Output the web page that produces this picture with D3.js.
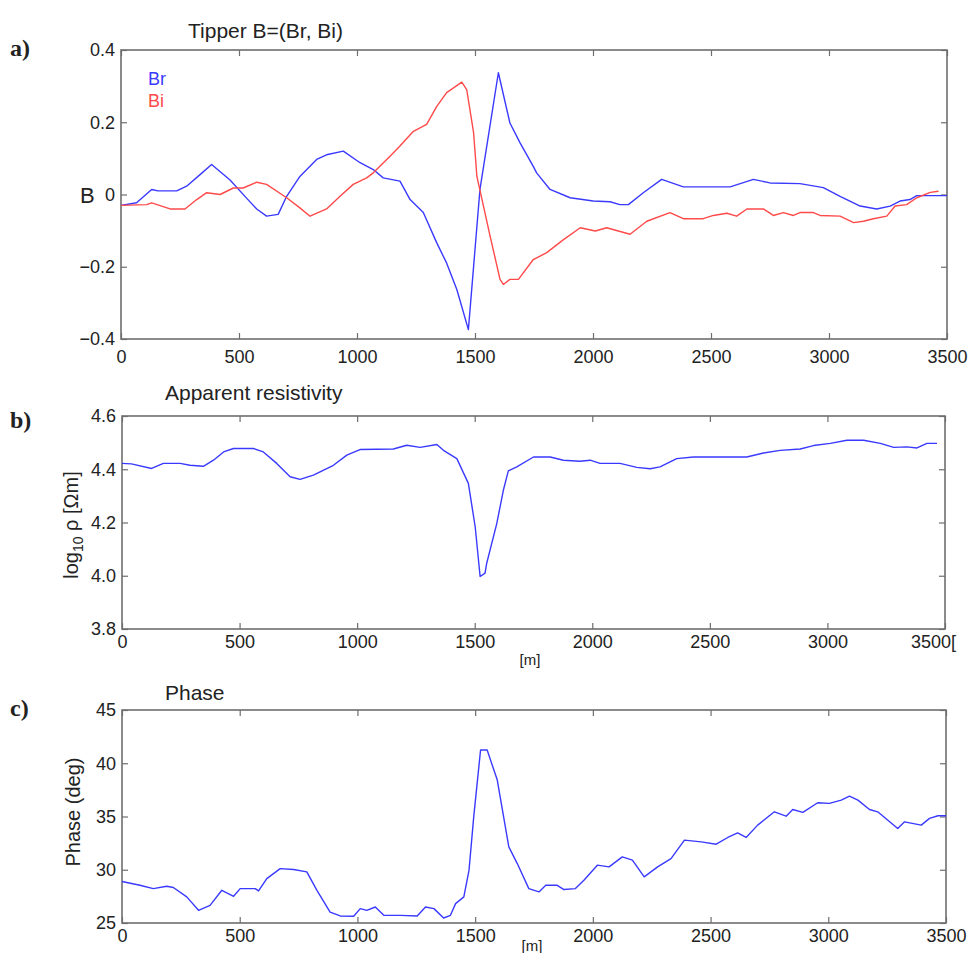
<!DOCTYPE html>
<html>
<head>
<meta charset="utf-8">
<script src="https://cdn.jsdelivr.net/npm/d3@7"></script>
<style>
  body { margin: 0; background: #fff; }
  text { font-family: "Liberation Sans", Arial, sans-serif; fill: #222; }
</style>
</head>
<body>
<script>
// distance along profile [m] and values
let brX = [0, 66, 130, 157, 236, 278, 335, 384, 462, 532, 575, 617, 666, 702, 758, 829, 871, 942, 1013, 1069, 1111, 1182, 1225, 1281, 1338, 1380, 1423, 1472, 1521, 1599, 1648, 1691, 1747, 1761, 1818, 1903, 2001, 2072, 2114, 2150, 2213, 2291, 2383, 2581, 2680, 2750, 2877, 2976, 3047, 3132, 3202, 3259, 3301, 3343, 3372, 3500];
let brY = [-0.03, -0.023, 0.014, 0.01, 0.01, 0.023, 0.055, 0.083, 0.04, -0.01, -0.04, -0.06, -0.055, -0.005, 0.05, 0.097, 0.11, 0.12, 0.088, 0.069, 0.046, 0.037, -0.014, -0.05, -0.134, -0.19, -0.263, -0.374, 0.014, 0.337, 0.198, 0.143, 0.078, 0.06, 0.014, -0.009, -0.018, -0.02, -0.028, -0.028, 0.005, 0.042, 0.021, 0.021, 0.042, 0.032, 0.03, 0.019, -0.005, -0.032, -0.04, -0.032, -0.018, -0.014, -0.003, -0.003];

let biX = [0, 109, 130, 208, 271, 321, 363, 420, 476, 518, 575, 617, 702, 758, 801, 871, 928, 984, 1041, 1069, 1140, 1182, 1239, 1295, 1338, 1380, 1444, 1465, 1494, 1508, 1564, 1606, 1620, 1648, 1684, 1747, 1804, 1875, 1946, 2010, 2058, 2157, 2228, 2326, 2383, 2467, 2510, 2567, 2609, 2652, 2722, 2764, 2807, 2849, 2877, 2934, 2962, 3047, 3104, 3146, 3188, 3245, 3280, 3329, 3372, 3429, 3464];
let biY = [-0.03, -0.028, -0.023, -0.04, -0.04, -0.014, 0.005, 0, 0.018, 0.018, 0.034, 0.028, -0.009, -0.037, -0.06, -0.04, -0.005, 0.028, 0.046, 0.06, 0.106, 0.134, 0.175, 0.194, 0.244, 0.282, 0.311, 0.29, 0.171, 0.05, -0.115, -0.235, -0.249, -0.235, -0.235, -0.18, -0.161, -0.125, -0.092, -0.101, -0.092, -0.11, -0.074, -0.05, -0.067, -0.067, -0.058, -0.052, -0.06, -0.04, -0.04, -0.058, -0.05, -0.058, -0.05, -0.05, -0.058, -0.06, -0.078, -0.074, -0.067, -0.06, -0.032, -0.028, -0.009, 0.006, 0.009];

let rhoX = [0, 40, 126, 176, 247, 289, 346, 389, 432, 474, 559, 601, 658, 715, 757, 814, 899, 956, 1012, 1154, 1211, 1268, 1339, 1367, 1424, 1473, 1502, 1523, 1544, 1551, 1594, 1622, 1643, 1679, 1750, 1821, 1877, 1948, 1991, 2033, 2118, 2189, 2246, 2288, 2359, 2430, 2657, 2728, 2799, 2884, 2941, 3012, 3083, 3154, 3225, 3282, 3338, 3381, 3423, 3466];
let rhoY = [4.422, 4.42, 4.403, 4.422, 4.422, 4.415, 4.411, 4.434, 4.465, 4.478, 4.478, 4.465, 4.422, 4.372, 4.362, 4.378, 4.415, 4.453, 4.474, 4.476, 4.49, 4.482, 4.493, 4.471, 4.44, 4.347, 4.184, 3.997, 4.01, 4.047, 4.197, 4.322, 4.394, 4.409, 4.446, 4.446, 4.434, 4.43, 4.434, 4.422, 4.422, 4.407, 4.402, 4.409, 4.44, 4.446, 4.446, 4.461, 4.471, 4.476, 4.489, 4.497, 4.509, 4.509, 4.497, 4.482, 4.484, 4.48, 4.497, 4.497];

let phX = [0, 76, 133, 190, 218, 275, 325, 374, 424, 474, 502, 566, 580, 615, 672, 729, 785, 828, 884, 927, 984, 1012, 1040, 1076, 1112, 1183, 1254, 1289, 1325, 1366, 1395, 1417, 1452, 1474, 1494, 1523, 1551, 1594, 1643, 1679, 1728, 1771, 1800, 1849, 1877, 1926, 1962, 2019, 2069, 2125, 2168, 2218, 2275, 2332, 2389, 2460, 2524, 2573, 2615, 2651, 2700, 2771, 2821, 2849, 2892, 2955, 3005, 3055, 3090, 3126, 3175, 3210, 3295, 3324, 3395, 3430, 3466, 3500];
let phY = [28.9, 28.54, 28.23, 28.45, 28.33, 27.45, 26.19, 26.66, 28.07, 27.51, 28.23, 28.23, 28.01, 29.17, 30.11, 30.02, 29.8, 28.07, 26.03, 25.66, 25.63, 26.35, 26.19, 26.5, 25.72, 25.72, 25.66, 26.5, 26.35, 25.47, 25.72, 26.82, 27.45, 29.96, 34.97, 41.24, 41.24, 38.42, 32.15, 30.58, 28.23, 27.92, 28.54, 28.54, 28.14, 28.23, 29.01, 30.43, 30.27, 31.21, 30.9, 29.33, 30.27, 31.05, 32.78, 32.62, 32.4, 33.03, 33.46, 33.03, 34.19, 35.44, 35.03, 35.66, 35.38, 36.29, 36.23, 36.54, 36.91, 36.54, 35.66, 35.44, 33.88, 34.5, 34.19, 34.82, 35.07, 35.07];

let xTicks = [0, 500, 1000, 1500, 2000, 2500, 3000, 3500];

const W = 968, H = 953;
const blue = "#3a3aff", red = "#ff4a4a", frameCol = "#6e6e6e";

let svg = d3.select("body").append("svg")
    .attr("width", W)
    .attr("height", H);

function zip(xs, ys) {
    return xs.map((x, i) => ({x: x, y: ys[i]}));
}

function panel(opt) {
    let x = d3.scaleLinear().domain([0, 3500]).range([opt.left, opt.right]);
    let y = d3.scaleLinear().domain(opt.yDomain).range([opt.bottom, opt.top]);
    let g = svg.append("g");

    let fmt = opt.yFormat;

    g.append("g")
        .attr("class", "xaxis")
        .attr("transform", "translate(0," + opt.bottom + ")")
        .call(d3.axisBottom(x).tickValues(xTicks).tickSize(-6).tickPadding(opt.xPad).tickFormat(opt.xFormat || d3.format("d")));
    g.append("g")
        .attr("transform", "translate(0," + opt.top + ")")
        .call(d3.axisTop(x).tickValues(xTicks).tickSize(-6).tickFormat(""));
    g.append("g")
        .attr("transform", "translate(" + opt.left + ",0)")
        .call(d3.axisLeft(y).tickValues(opt.yTicks).tickSize(-6).tickPadding(6).tickFormat(fmt));
    g.append("g")
        .attr("transform", "translate(" + opt.right + ",0)")
        .call(d3.axisRight(y).tickValues(opt.yTicks).tickSize(-6).tickFormat(""));

    g.selectAll(".domain").remove();
    g.selectAll(".tick line").attr("stroke", frameCol).attr("stroke-width", 1.2);
    g.selectAll(".tick text")
        .style("font-size", "18px")
        .style("font-family", "Liberation Sans, Arial, sans-serif")
        .attr("fill", "#222");

    g.append("rect")
        .attr("x", opt.left).attr("y", opt.top)
        .attr("width", opt.right - opt.left).attr("height", opt.bottom - opt.top)
        .attr("fill", "none").attr("stroke", frameCol).attr("stroke-width", 1.6);

    let line = d3.line().x(d => x(d.x)).y(d => y(d.y));
    opt.series.forEach(s => {
        g.append("path")
            .datum(zip(s.xs, s.ys))
            .attr("fill", "none")
            .attr("stroke", s.color)
            .attr("stroke-width", 1.4)
            .attr("stroke-linejoin", "round")
            .attr("d", line);
    });

    // title
    g.append("text")
        .attr("x", opt.titleX).attr("y", opt.titleY)
        .style("font-size", "21px")
        .text(opt.title);

    // panel letter
    g.append("text")
        .attr("x", 10).attr("y", opt.letterY)
        .style("font-family", "Liberation Serif, Times New Roman, serif")
        .style("font-weight", "bold")
        .style("font-size", "24px")
        .attr("fill", "#000")
        .text(opt.letter);

    return {g: g, x: x, y: y};
}

// a) tipper
let pa = panel({
    left: 121, right: 947, top: 50, bottom: 339,
    yDomain: [-0.4, 0.4], yTicks: [-0.4, -0.2, 0, 0.2, 0.4],
    yFormat: d => d === 0 ? "0" : d3.format(".1f")(d),
    xPad: 11,
    series: [{xs: brX, ys: brY, color: blue}, {xs: biX, ys: biY, color: red}],
    title: "Tipper B=(Br, Bi)", titleX: 188, titleY: 38,
    letter: "a)", letterY: 56
});
pa.g.append("text").attr("x", 80).attr("y", 203).style("font-size", "22px").text("B");
pa.g.append("text").attr("x", 148).attr("y", 85).style("font-size", "18px").style("fill", blue).text("Br");
pa.g.append("text").attr("x", 148).attr("y", 107).style("font-size", "18px").style("fill", red).text("Bi");

// b) apparent resistivity
let pb = panel({
    left: 122, right: 945, top: 416, bottom: 629,
    yDomain: [3.8, 4.6], yTicks: [3.8, 4.0, 4.2, 4.4, 4.6],
    yFormat: d3.format(".1f"),
    xFormat: d => d === 3500 ? "3500[" : d3.format("d")(d),
    xPad: 6,
    series: [{xs: rhoX, ys: rhoY, color: blue}],
    title: "Apparent resistivity", titleX: 165, titleY: 400,
    letter: "b)", letterY: 428
});
// the last label sits a bit to the left in the original
pb.g.selectAll(".xaxis .tick text").filter(d => d === 3500).attr("dx", -12);
let lb = pb.g.append("text")
    .attr("transform", "translate(78,525) rotate(-90)")
    .attr("text-anchor", "middle")
    .style("font-size", "20px");
lb.append("tspan").text("log");
lb.append("tspan").attr("dy", 5).style("font-size", "14px").text("10");
lb.append("tspan").attr("dy", -5).text(" \u03c1 [\u03a9m]");
pb.g.append("text").attr("x", 530).attr("y", 665).attr("text-anchor", "middle").style("font-size", "15px").text("[m]");

// c) phase
let pc = panel({
    left: 122, right: 946, top: 710, bottom: 923,
    yDomain: [25, 45], yTicks: [25, 30, 35, 40, 45],
    yFormat: d3.format("d"),
    xPad: 6,
    series: [{xs: phX, ys: phY, color: blue}],
    title: "Phase", titleX: 165, titleY: 700,
    letter: "c)", letterY: 716
});
pc.g.append("text")
    .attr("transform", "translate(80,812) rotate(-90)")
    .attr("text-anchor", "middle")
    .style("font-size", "20px")
    .text("Phase (deg)");
pc.g.append("text").attr("x", 532).attr("y", 951).attr("text-anchor", "middle").style("font-size", "15px").text("[m]");
</script>
</body>
</html>
